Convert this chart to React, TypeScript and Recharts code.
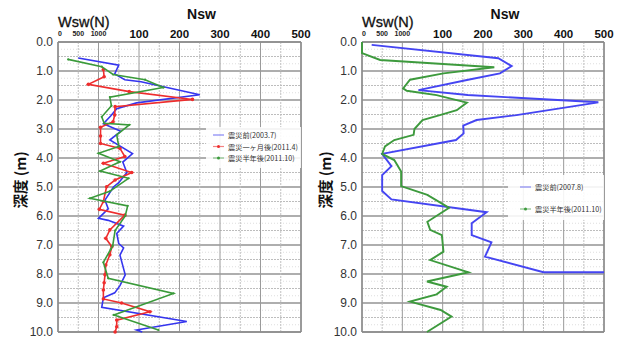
import React from 'react';
import { ScatterChart, Scatter, XAxis, YAxis, ReferenceLine } from 'recharts';

// x axis is one scale: -100..0 is Wsw 0..1000 N, 0..500 is Nsw
const X_TICKS = [-100, -50, 0, 100, 200, 300, 400, 500];
const X_TICK_LABELS = ['0', '500', '1000', '100', '200', '300', '400', '500'];
const DEPTH_TICKS = [0, 1, 2, 3, 4, 5, 6, 7, 8, 9, 10];

// left panel
const L_BEFORE_DEPTH = [0.55, 0.8, 1.1, 1.3, 1.37, 1.82, 2.1, 2.3, 2.55, 2.82, 3.08, 3.38, 3.85, 4.14, 4.5, 4.85, 5.0, 5.45, 5.75, 6.08, 6.15, 6.35, 6.6, 6.95, 7.1, 7.35, 8.03, 8.4, 8.65, 8.82, 9.15, 9.64, 9.93, 10.0];
const L_BEFORE_VAL = [-50, 50, 40, 65, 105, 250, 94, 45, 30, 12, 55, 28, 84, 60, 70, 50, 37, 16, 24, 0, 24, 62, 45, 50, 62, 53, 66, 53, 40, 12, 8, 218, 94, 108];

const L_1M_DEPTH = [0.95, 1.2, 1.46, 1.71, 1.98, 2.23, 2.52, 2.75, 2.94, 3.24, 3.5, 3.67, 3.95, 4.18, 4.5, 4.76, 4.99, 5.5, 5.77, 5.97, 6.48, 6.77, 7.06, 7.34, 7.69, 8.03, 8.3, 8.55, 8.86, 9.0, 9.3, 9.59, 9.82, 10.0];
const L_1M_VAL = [12, 14, -25, 76, 232, 41, 40, 36, 5, 5, 5, 53, 65, 12, 82, 41, 20, 12, 2, 65, 28, 18, 33, 28, 18, 16, 14, 12, 12, 57, 127, 45, 45, 41];

const L_6M_DEPTH = [0.6, 0.85, 1.12, 1.3, 1.57, 1.9, 2.2, 2.58, 2.8, 2.86, 3.2, 3.6, 3.84, 4.13, 4.45, 4.7, 5.15, 5.39, 5.65, 6.0, 6.5, 7.03, 7.15, 7.6, 8.15, 8.67, 9.41, 9.93];
const L_6M_VAL = [-75, 8, 36, 115, 160, 28, 32, 8, 14, 76, 45, 50, 0, 53, 4, 74, 28, -21, 72, 66, 41, 35, 30, 12, 24, 185, 38, 148];

// right panel
const R_BEFORE_DEPTH = [0.1, 0.56, 0.83, 1.08, 1.31, 1.66, 1.83, 2.08, 2.52, 2.69, 2.88, 3.15, 3.38, 3.86, 4.28, 4.59, 5.14, 5.43, 5.87, 6.25, 6.66, 6.91, 7.4, 7.94, 7.94];
const R_BEFORE_VAL = [-76, 238, 271, 242, 160, 40, 162, 486, 283, 184, 151, 152, 133, -50, -27, -50, -50, -27, 209, 172, 172, 221, 205, 350, 500];

const R_6M_DEPTH = [0.0, 0.38, 0.62, 0.87, 1.08, 1.3, 1.6, 1.68, 1.83, 2.09, 2.35, 2.52, 2.69, 3.0, 3.2, 3.38, 3.6, 3.86, 4.07, 4.47, 4.97, 5.27, 5.72, 6.2, 6.48, 6.66, 7.23, 7.52, 7.94, 8.26, 8.44, 8.7, 8.95, 9.24, 9.47, 10.0];
const R_6M_VAL = [-100, -100, -55, 228, 102, 19, 2, 11, 85, 160, 135, 93, 50, 30, 28, -20, -43, -50, -20, -3, -3, 62, 116, 62, 69, 98, 102, 69, 164, 61, 110, 85, 19, 95, 122, 61];

const FONT = '"Liberation Sans", Arial, sans-serif';
const CJK = '"Noto Sans CJK JP", "Noto Sans CJK SC", sans-serif';

const toPoints = (depths: number[], vals: number[]) => depths.map((d, i) => ({ d, u: vals[i] }));

const gridX: number[] = [];
for (let v = -100; v <= 500; v += 50) gridX.push(v);
const gridY: number[] = [];
for (let v = 0; v <= 10; v += 0.25) gridY.push(v);

const PLOT_TOP = 42;

function XTick(props: any) {
  const { x, payload } = props;
  const i = X_TICKS.indexOf(payload.value);
  const label = X_TICK_LABELS[i];
  if (payload.value <= 0) {
    return (
      <text x={payload.value === -100 ? x + 2 : x} y={PLOT_TOP - 6} textAnchor="middle" fontSize={7} fontWeight={700} fill="#222" fontFamily={FONT}>
        {label}
      </text>
    );
  }
  return (
    <text x={x} y={PLOT_TOP - 4} textAnchor="middle" fontSize={11.5} fontWeight={700} fill="#111" fontFamily={FONT}>
      {label}
    </text>
  );
}

const none = () => <g />;
const dot = (color: string, r: number) => (p: any) => <circle cx={p.cx} cy={p.cy} r={r} fill={color} />;

interface Series {
  data: { d: number; u: number }[];
  color: string;
  width: number;
  r: number;
}

interface LegendItem {
  label: string;
  color: string;
  dot: boolean;
  cy: number;
}

function Panel({ left, plotLeft, plotRight, series, legendBox, legend, iconX, textX, labelX }: {
  left: number; plotLeft: number; plotRight: number; series: Series[];
  legendBox: { x: number; y: number; w: number; h: number }; legend: LegendItem[];
  iconX: number; textX: number; labelX: number;
}) {
  const W = 311;
  const H = 347;
  const titleX = (plotLeft + 40 + plotRight) / 2 + 2;
  return (
    <div style={{ position: 'absolute', left, top: 0, width: W, height: H }}>
      <ScatterChart width={W} height={H} margin={{ top: 30, right: W - plotRight, bottom: 15, left: plotLeft - 50 }}>
        <XAxis type="number" dataKey="u" orientation="top" domain={[-100, 500]} ticks={X_TICKS} interval={0}
          axisLine={false} tickLine={false} height={12} tick={<XTick />} />
        <YAxis type="number" dataKey="d" domain={[0, 10]} reversed ticks={DEPTH_TICKS} interval={0} width={50}
          axisLine={false} tickLine={false} tickSize={0} tickMargin={5}
          tickFormatter={(v: number) => v.toFixed(1)}
          tick={{ fontSize: 12, fill: '#333', fontFamily: FONT }} />
        {gridY.map((v) => {
          const major = Math.abs(v - Math.round(v)) < 1e-6;
          const half = Math.abs(v * 2 - Math.round(v * 2)) < 1e-6;
          return (
            <ReferenceLine key={'y' + v} y={v}
              stroke={major ? '#939393' : half ? '#bdbdbd' : '#dedede'}
              strokeWidth={major ? 1.4 : 1}
              strokeDasharray={major ? undefined : half ? '2 1' : '1 2'} />
          );
        })}
        {gridX.map((v) => {
          const major = v % 100 === 0;
          return (
            <ReferenceLine key={'x' + v} x={v}
              stroke={major ? '#9a9a9a' : '#c0c0c0'}
              strokeWidth={1}
              strokeDasharray={major ? undefined : '2 1'} />
          );
        })}
        <ReferenceLine x={-100} stroke="#8a8a8a" strokeWidth={1.5} />
        <ReferenceLine x={500} stroke="#8a8a8a" strokeWidth={1.5} />
        <ReferenceLine y={0} stroke="#8a8a8a" strokeWidth={1.5} />
        <ReferenceLine y={10} stroke="#8a8a8a" strokeWidth={1.5} />
        {series.map((s, i) => (
          <Scatter key={i} data={s.data} isAnimationActive={false}
            line={{ stroke: s.color, strokeWidth: s.width }}
            shape={s.r > 0 ? dot(s.color, s.r) : none} />
        ))}
      </ScatterChart>
      <svg width={W} height={H} style={{ position: 'absolute', left: 0, top: 0, pointerEvents: 'none' }}>
        <text x={titleX} y={18.5} textAnchor="middle" fontSize={14} fontWeight={700} fill="#111" fontFamily={FONT}>Nsw</text>
        <text x={plotLeft} y={27} fontSize={14.5} fill="#111" fontFamily={FONT} stroke="#111" strokeWidth={0.3}>Wsw(N)</text>
        <text transform={`translate(${labelX},180) rotate(-90)`} textAnchor="middle" dominantBaseline="central"
          fontSize={14.5} fontWeight={700} fill="#111" fontFamily={CJK}>深度 (m)</text>
        <rect x={legendBox.x} y={legendBox.y} width={legendBox.w} height={legendBox.h} fill="#fff" fillOpacity={0.88} />
        {legend.map((it, i) => (
          <g key={i}>
            <line x1={iconX} x2={iconX + 11} y1={it.cy} y2={it.cy} stroke={it.color} strokeOpacity={0.6} strokeWidth={1.2} />
            {it.dot && <circle cx={iconX + 5.5} cy={it.cy} r={1.5} fill={it.color} />}
            <text x={textX} y={it.cy} dominantBaseline="central" fontSize={7.2} fill="#333" fontFamily={CJK}>{it.label}</text>
          </g>
        ))}
      </svg>
    </div>
  );
}

export default function App() {
  const leftSeries: Series[] = [
    { data: toPoints(L_BEFORE_DEPTH, L_BEFORE_VAL), color: '#3535ee', width: 1.6, r: 0 },
    { data: toPoints(L_1M_DEPTH, L_1M_VAL), color: '#ee2d2d', width: 1.6, r: 1.8 },
    { data: toPoints(L_6M_DEPTH, L_6M_VAL), color: '#3a9a3a', width: 1.6, r: 1.1 },
  ];
  const rightSeries: Series[] = [
    { data: toPoints(R_BEFORE_DEPTH, R_BEFORE_VAL), color: '#4545f2', width: 1.9, r: 0 },
    { data: toPoints(R_6M_DEPTH, R_6M_VAL), color: '#3d9a3d', width: 1.9, r: 0 },
  ];
  return (
    <div style={{ position: 'absolute', left: 0, top: 0, width: 622, height: 347, background: '#fff', fontFamily: FONT }}>
      <Panel left={0} plotLeft={58} plotRight={301} series={leftSeries}
        legendBox={{ x: 206, y: 127, w: 95, h: 41 }}
        legend={[
          { label: '震災前(2003.7)', color: '#3535ee', dot: false, cy: 135 },
          { label: '震災一ヶ月後(2011.4)', color: '#ee2d2d', dot: true, cy: 146.5 },
          { label: '震災半年後(2011.10)', color: '#3a9a3a', dot: true, cy: 158 },
        ]}
        iconX={213} textX={228} labelX={19} />
      <Panel left={311} plotLeft={51} plotRight={293} series={rightSeries}
        legendBox={{ x: 197, y: 175, w: 96, h: 45 }}
        legend={[
          { label: '震災前(2007.8)', color: '#4545f2', dot: false, cy: 187 },
          { label: '震災半年後(2011.10)', color: '#3d9a3d', dot: true, cy: 209 },
        ]}
        iconX={209} textX={224} labelX={13} />
    </div>
  );
}
